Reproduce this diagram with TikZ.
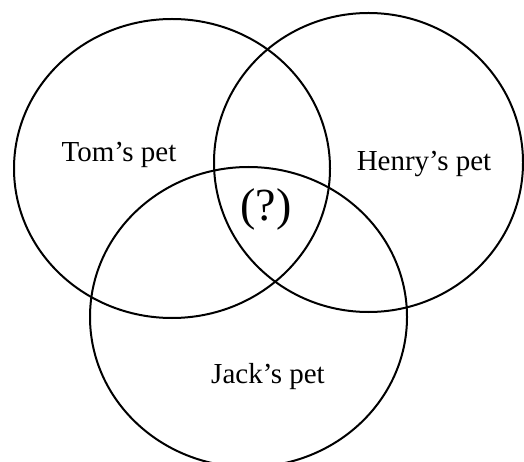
\documentclass[tikz,border=0pt]{standalone}
\usepackage{fontspec}
\setmainfont{Liberation Serif}
\usetikzlibrary{positioning}

\begin{document}
\begin{tikzpicture}[
    x=1pt, y=1pt,
    set/.style={draw=black, line width=2pt},
    lbl/.style={font=\fontsize{29}{34}\selectfont, inner sep=0pt},
    mid/.style={font=\fontsize{46}{54}\selectfont, inner sep=0pt}
  ]
  \useasboundingbox (0,0) rectangle (524,461);

  % the three sets
  \draw[set] (172,292.5) ellipse [x radius=158, y radius=149.5];
  \draw[set] (368.5,298.5) ellipse [x radius=154.5, y radius=149.5];
  \draw[set] (248.5,144) ellipse [x radius=158.5, y radius=150];

  \node[lbl] (tom)   at (119,306) {Tom’s pet};
  \node[lbl] (henry) at (424,297) {Henry’s pet};
  \node[lbl] (jack)  at (268,84)  {Jack’s pet};
  \node[mid] (all)   at (266,252) {(?)};
\end{tikzpicture}
\end{document}
